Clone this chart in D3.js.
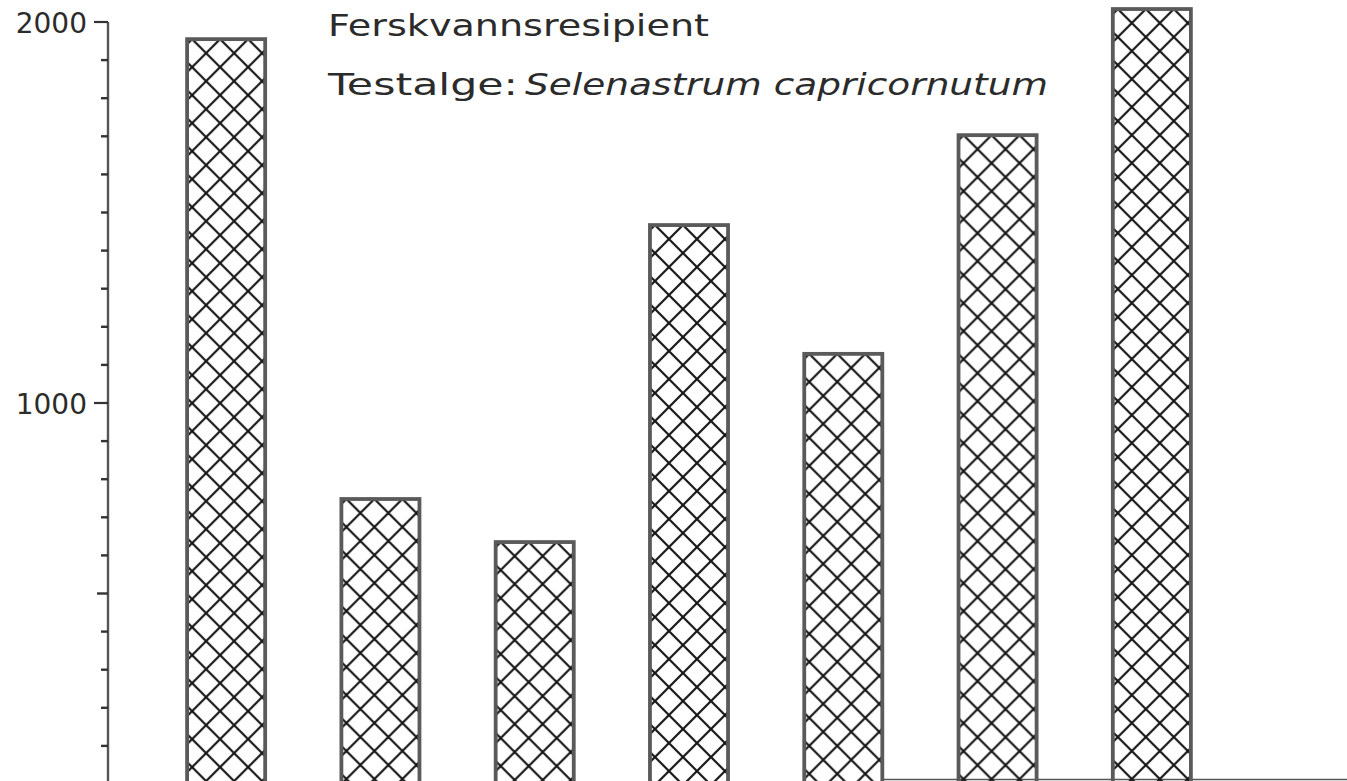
<!DOCTYPE html>
<html>
<head>
<meta charset="utf-8">
<script src="https://cdn.jsdelivr.net/npm/d3@7"></script>
<style>
  html, body { margin: 0; padding: 0; background: #fff; }
  svg { display: block; }
  text { font-family: "DejaVu Sans", sans-serif; fill: #2b2b2b; }
</style>
</head>
<body>
<svg id="chart" width="1347" height="781"></svg>
<script>
// ---- data ----
const categories = ["1", "2", "3", "4", "5", "6", "7"];
const values = [1955, 748, 635, 1467, 1129, 1703, 2034];
const majorTicks = [1000, 2000];
const minorTicks = [100, 200, 300, 400, 500, 600, 700, 800, 900, 1100, 1200, 1300, 1400, 1500, 1600, 1700, 1800, 1900];
const titleLine1 = "Ferskvannsresipient";
const titleLine2a = "Testalge:";
const titleLine2b = "Selenastrum capricornutum";

const W = 1347, H = 781;
const svg = d3.select("#chart");

const y = d3.scaleLinear().domain([0, 2000]).range([784, 22]);
const x = d3.scaleBand().domain(categories).range([149, 1229]).paddingInner(0.494).paddingOuter(0.247);

// hatch pattern
const defs = svg.append("defs");
categories.forEach((c, i) => {
  const p = defs.append("pattern")
    .attr("id", "hatch" + i)
    .attr("patternUnits", "userSpaceOnUse")
    .attr("width", 28).attr("height", 28)
    .attr("patternTransform", `translate(${x(c) + 5},${y(values[i])})`);
  p.append("path")
    .attr("d", "M-2,-2 L30,30 M-2,30 L30,-2")
    .attr("stroke", "#161616").attr("stroke-width", 2.2).attr("fill", "none");
});

// baseline (partial, as in reference)
svg.append("line")
  .attr("x1", x(categories[4]) + x.bandwidth()).attr("x2", W)
  .attr("y1", 779.5).attr("y2", 779.5)
  .attr("stroke", "#555").attr("stroke-width", 1.5);

// bars
svg.selectAll("rect.bar").data(values).enter().append("rect")
  .attr("class", "bar")
  .attr("x", (d, i) => x(categories[i]))
  .attr("y", d => y(d))
  .attr("width", x.bandwidth())
  .attr("height", d => y(0) - y(d))
  .attr("fill", (d, i) => `url(#hatch${i})`)
  .attr("stroke", "#5a5a5a").attr("stroke-width", 3.8);

// y axis
const axisX = 108;
const ax = svg.append("g").attr("transform", `translate(${axisX},0)`);
ax.append("line").attr("x1", 0).attr("x2", 0).attr("y1", y(2000)).attr("y2", H)
  .attr("stroke", "#555").attr("stroke-width", 2.4);
ax.selectAll("line.minor").data(minorTicks).enter().append("line")
  .attr("class", "minor")
  .attr("x1", d => d === 500 ? -11 : -7).attr("x2", 0)
  .attr("y1", d => y(d)).attr("y2", d => y(d))
  .attr("stroke", "#333").attr("stroke-width", 2.4);
ax.selectAll("line.major").data(majorTicks).enter().append("line")
  .attr("class", "major")
  .attr("x1", -14).attr("x2", 0)
  .attr("y1", d => y(d)).attr("y2", d => y(d))
  .attr("stroke", "#333").attr("stroke-width", 2.2);
ax.selectAll("text.tl").data(majorTicks).enter().append("text")
  .attr("class", "tl")
  .attr("x", -21).attr("y", d => y(d) + 10.5)
  .attr("text-anchor", "end")
  .attr("font-size", 28)
  .text(d => d);

// titles
svg.append("text").attr("x", 328).attr("y", 36)
  .attr("font-size", 30).attr("textLength", 381).attr("lengthAdjust", "spacingAndGlyphs")
  .text(titleLine1);
svg.append("text").attr("x", 328).attr("y", 95)
  .attr("font-size", 30).attr("textLength", 190).attr("lengthAdjust", "spacingAndGlyphs")
  .text(titleLine2a);
svg.append("text").attr("x", 525).attr("y", 95)
  .attr("font-size", 30).attr("font-style", "italic")
  .attr("textLength", 523).attr("lengthAdjust", "spacingAndGlyphs")
  .text(titleLine2b);
</script>
</body>
</html>
